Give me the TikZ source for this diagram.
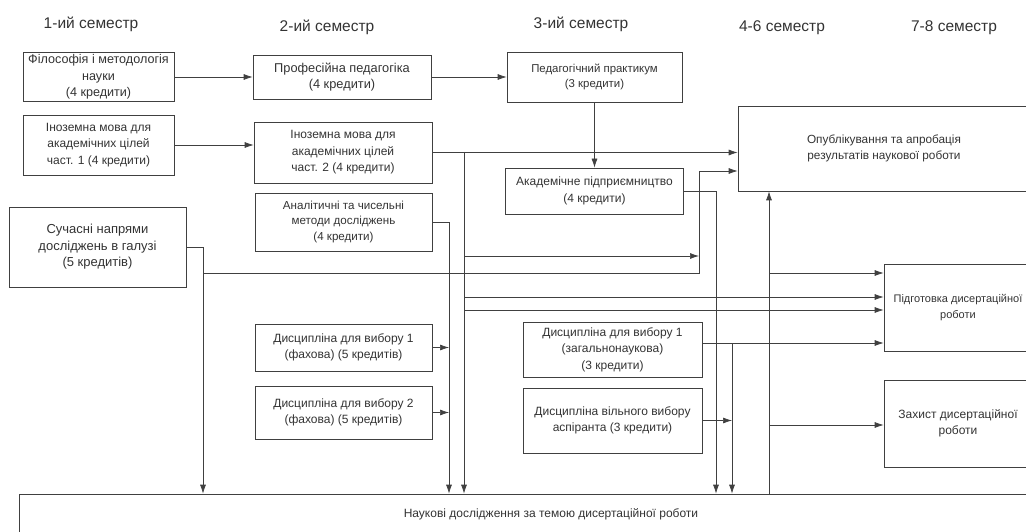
\documentclass[tikz,border=0pt]{standalone}
\usepackage{fontspec}
\setmainfont{Liberation Sans}
\usetikzlibrary{arrows.meta}

\begin{document}
\begin{tikzpicture}[x=1pt,y=-1pt,>={Latex[length=9pt,width=6pt]},line width=0.7pt]

  \tikzstyle{kurs}=[draw=black!75,align=center,inner sep=1pt,text=black!80,font=\fontsize{12}{16.5}\selectfont]
  \tikzstyle{sem}=[text=black!80,font=\fontsize{15.5}{18}\selectfont]
  \tikzstyle{zv}=[->,draw=black!75]

  \clip (0,0) rectangle (1026,532);

  \begin{scope}

    % semestry
    \node [sem] (s1) at (91,24) {1-ий семестр};
    \node [sem] (s2) at (327,27) {2-ий семестр};
    \node [sem] (s3) at (581,24) {3-ий семестр};
    \node [sem] (s4) at (782,28) {4-6 семестр};
    \node [sem] (s5) at (954,28) {7-8 семестр};

    % 1-ий семестр
    \node [kurs,minimum width=151pt,minimum height=49pt,font=\fontsize{12.6}{16.5}\selectfont] (d1) at (98.5,77) {Філософія і методологія\\науки\\(4 кредити)};

    \node [kurs,minimum width=151pt,minimum height=60pt] (d2) at (98.5,145) {Іноземна мова для\\академічних цілей\\част. 1 (4 кредити)};

    \node [kurs,minimum width=177pt,minimum height=80pt,font=\fontsize{13}{16.5}\selectfont] (d3) at (97.5,247) {Сучасні напрями\\досліджень в галузі\\(5 кредитів)};

    % 2-ий семестр
    \node [kurs,minimum width=178pt,minimum height=44pt,font=\fontsize{12.8}{15.5}\selectfont] (d4) at (342,77) {Професійна педагогіка\\(4 кредити)}
    edge [<-,draw=black!75] (d1);

    \node [kurs,minimum width=178pt,minimum height=61pt] (d5) at (343,152.5) {Іноземна мова для\\академічних цілей\\част. 2 (4 кредити)};

    \node [kurs,minimum width=177pt,minimum height=58pt,font=\fontsize{11.6}{16}\selectfont] (d6) at (343.5,222) {Аналітичні та чисельні\\методи досліджень\\(4 кредити)};

    \node [kurs,minimum width=177pt,minimum height=47pt] (d7) at (343.5,347.5) {Дисципліна для вибору 1\\(фахова) (5 кредитів)};

    \node [kurs,minimum width=177pt,minimum height=53pt] (d8) at (343.5,412.5) {Дисципліна для вибору 2\\(фахова) (5 кредитів)};

    % 3-ий семестр
    \node [kurs,minimum width=175pt,minimum height=50pt,font=\fontsize{11.4}{15.5}\selectfont] (d9) at (594.5,77) {Педагогічний практикум\\(3 кредити)}
    edge [<-,draw=black!75] (d4);

    \node [kurs,minimum width=178pt,minimum height=46pt] (d10) at (594.5,191) {Академічне підприємництво\\(4 кредити)}
    edge [<-,draw=black!75] (d9);

    \node [kurs,minimum width=179pt,minimum height=55pt] (d11) at (612.5,349.5) {Дисципліна для вибору 1\\(загальнонаукова)\\(3 кредити)};

    \node [kurs,minimum width=179pt,minimum height=65pt] (d12) at (612.5,420.5) {Дисципліна вільного вибору\\аспіранта (3 кредити)};

    % 4-8 семестр
    \node [kurs,minimum width=292pt,minimum height=85pt,font=\fontsize{11.8}{16}\selectfont] (d13) at (884,148.5) {Опублікування та апробація\\результатів наукової роботи};

    \node [kurs,minimum width=148pt,minimum height=87pt,font=\fontsize{11}{16}\selectfont] (d14) at (958,307.5) {Підготовка дисертаційної\\роботи};

    \node [kurs,minimum width=148pt,minimum height=87pt] (d15) at (958,423.5) {Захист дисертаційної\\роботи};

    \node [kurs,minimum width=1064pt,minimum height=40pt] (d16) at (551,514) {Наукові дослідження за темою дисертаційної роботи};

    % shyny
    \coordinate (bA) at (464,152);
    \coordinate (bB) at (449,222);
    \coordinate (bC) at (203,247);
    \coordinate (bD) at (699,171);
    \coordinate (bE) at (716,191);
    \coordinate (bF) at (732,343);
    \coordinate (bG) at (769,273);
    \coordinate (bH) at (769,425);
    \coordinate (hA) at (464,256);
    \coordinate (hB) at (464,297);
    \coordinate (hC) at (464,310);

    \draw [zv] (d2.east) -- (d2.east -| d5.west);
    \draw [zv] (d5.east) -- (d5.east -| d13.west);
    \draw [zv] (bA) -- (bA |- d16.north);

    \draw [zv] (d6.east) -- (bB) -- (bB |- d16.north);
    \draw [zv] (d7.east) -- (d7.east -| bB);
    \draw [zv] (d8.east) -- (d8.east -| bB);

    \draw [zv] (d3.east) -- (bC) -- (bC |- d16.north);
    \draw [zv] (bC |- bG) -- (bD |- bG) -- (bD) -- (bD -| d13.west);
    \draw [zv] (hA) -- (hA -| bD);
    \draw [zv] (hB) -- (hB -| d14.west);
    \draw [zv] (hC) -- (hC -| d14.west);

    \draw [zv] (d10.east) -- (bE) -- (bE |- d16.north);
    \draw [zv] (d11.east |- bF) -- (bF -| d14.west);
    \draw [zv] (bF) -- (bF |- d16.north);
    \draw [zv] (d12.east) -- (d12.east -| bF);

    \draw [zv] (bG |- d16.north) -- (bG |- d13.south);
    \draw [zv] (bG) -- (bG -| d14.west);
    \draw [zv] (bH) -- (bH -| d15.west);

  \end{scope}

\end{tikzpicture}
\end{document}
